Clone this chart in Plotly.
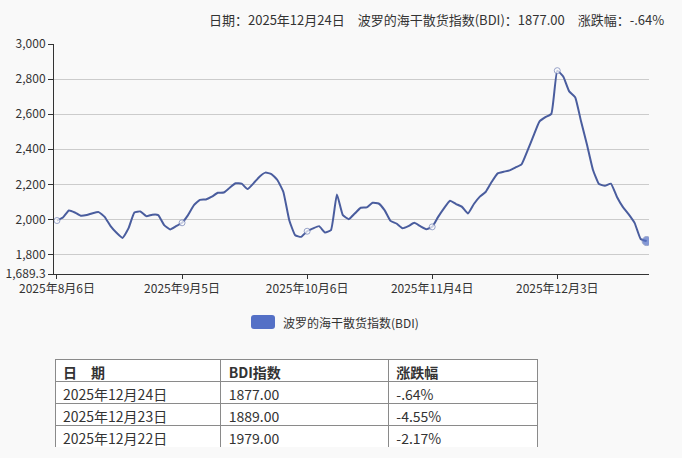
import pandas as pd
import plotly.graph_objects as go

# ---- data ----
dates = [d.strftime("%Y-%m-%d") for d in
         pd.bdate_range("2025-08-06", "2025-12-24", freq="C", holidays=["2025-08-25"])]
bdi = [1994, 2011, 2051, 2040, 2021, 2025, 2036, 2042, 2015, 1962,
       1924, 1895, 1949, 2040, 2046, 2019, 2027, 2025, 1968, 1943,
       1962, 1981, 2025, 2082, 2112, 2114, 2130, 2152, 2154, 2181,
       2206, 2204, 2173, 2206, 2244, 2267, 2259, 2225, 2158, 1996,
       1910, 1901, 1933, 1949, 1962, 1926, 1939, 2143, 2025, 2002,
       2034, 2067, 2069, 2095, 2091, 2053, 1992, 1977, 1950, 1962,
       1981, 1962, 1945, 1958, 2015, 2065, 2107, 2088, 2072, 2034,
       2088, 2130, 2158, 2215, 2263, 2272, 2280, 2297, 2314, 2392,
       2476, 2558, 2583, 2602, 2848, 2815, 2730, 2697, 2558, 2425,
       2282, 2202, 2192, 2204, 2130, 2072, 2029, 1979, 1889, 1877]
x_tick_dates = ["2025-08-06", "2025-09-05", "2025-10-06", "2025-11-04", "2025-12-03"]
x_tick_text = ["2025年8月6日", "2025年9月5日", "2025年10月6日", "2025年11月4日", "2025年12月3日"]
y_tick_vals = [1689.3, 1800, 2000, 2200, 2400, 2600, 2800, 3000]
y_tick_text = ["1,689.3", "1,800", "2,000", "2,200", "2,400", "2,600", "2,800", "3,000"]

series_name = "波罗的海干散货指数(BDI)"
title_text = "日期：2025年12月24日　波罗的海干散货指数(BDI)：1877.00　涨跌幅：-.64%"

table_header = ["日　期", "BDI指数", "涨跌幅"]
table_dates = ["2025年12月24日", "2025年12月23日", "2025年12月22日"]
table_values = ["1877.00", "1889.00", "1979.00"]
table_changes = ["-.64%", "-4.55%", "-2.17%"]

# ---- figure ----
W, H = 682, 458
FONT = "Noto Sans CJK SC"
LINE = "#4a5d9e"

def px_x(p):
    return p / W

def px_y(p):
    return 1 - p / H

fig = go.Figure()

marker_sizes = [6 if d in x_tick_dates else 0 for d in dates]
marker_fill = ["#ffffff"] * len(dates)
marker_sizes[-1] = 9
marker_fill[-1] = "#5470c6"

fig.add_trace(go.Scatter(
    x=dates, y=bdi, mode="lines+markers", name=series_name,
    line=dict(color=LINE, width=2, shape="spline", smoothing=0.4),
    marker=dict(size=marker_sizes, color=marker_fill,
                line=dict(color="#6f7fb5", width=1)),
    showlegend=False, hoverinfo="x+y", xaxis="x", yaxis="y",
))

fig.add_trace(go.Table(
    domain=dict(x=[px_x(55), px_x(538)], y=[px_y(448), px_y(359)]),
    columnwidth=[166, 168, 149],
    header=dict(values=table_header,
                align="left", height=22,
                fill_color="#ffffff", line=dict(color="#8a8a8a", width=1),
                font=dict(family=FONT, size=14, color="#333333", weight="bold")),
    cells=dict(values=[table_dates, table_values, table_changes],
               align="left", height=22,
               fill_color="#ffffff", line=dict(color="#8a8a8a", width=1),
               font=dict(family=FONT, size=14, color="#333333")),
))

fig.update_layout(
    width=W, height=H,
    margin=dict(l=0, r=0, t=0, b=0, autoexpand=False),
    paper_bgcolor="#f9f9f9", plot_bgcolor="#f9f9f9",
    font=dict(family=FONT, size=12, color="#333333"),
    xaxis=dict(
        domain=[px_x(54), px_x(649)],
        type="category", range=[-0.5, 99.4],
        tickvals=x_tick_dates, ticktext=x_tick_text,
        showline=True, linecolor="#333333", linewidth=1,
        ticks="outside", ticklen=4, tickcolor="#333333",
        showgrid=False, zeroline=False, automargin=False,
        tickfont=dict(size=12, color="#333333"),
        fixedrange=True,
    ),
    yaxis=dict(
        domain=[px_y(274), px_y(44)],
        range=[1689.3, 3000],
        tickvals=y_tick_vals, ticktext=y_tick_text,
        showline=True, linecolor="#333333", linewidth=1,
        ticks="outside", ticklen=5, tickcolor="#333333",
        showgrid=True, gridcolor="#cccccc", gridwidth=1,
        zeroline=False, automargin=False,
        tickfont=dict(size=12, color="#333333"),
        fixedrange=True,
    ),
    shapes=[dict(
        type="path", xref="paper", yref="paper",
        path=("M {x0},{y0} L {x1},{y0} Q {x2},{y0} {x2},{yb} L {x2},{yc} Q {x2},{y3} {x1},{y3} "
              "L {x0},{y3} Q {xa},{y3} {xa},{yc} L {xa},{yb} Q {xa},{y0} {x0},{y0} Z").format(
            xa=px_x(251), x0=px_x(254), x1=px_x(272), x2=px_x(275),
            y0=px_y(315), yb=px_y(318), yc=px_y(326), y3=px_y(329)),
        fillcolor="#5470c6", line=dict(width=0),
    )],
    annotations=[
        dict(text=title_text, xref="paper", yref="paper",
             x=px_x(666), y=px_y(20), xanchor="right", yanchor="middle",
             showarrow=False, font=dict(size=13, color="#333333")),
        dict(text=series_name, xref="paper", yref="paper",
             x=px_x(281), y=px_y(322), xanchor="left", yanchor="middle",
             showarrow=False, font=dict(size=12, color="#333333")),
    ],
)

fig.write_html(
    "out.html",
    config={"displayModeBar": False},
    post_script="document.body.style.margin='0';document.body.style.background='#f9f9f9';",
)
